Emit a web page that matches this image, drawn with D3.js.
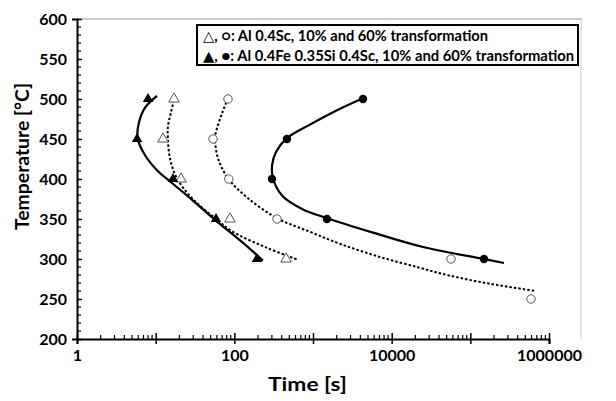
<!DOCTYPE html>
<html>
<head>
<meta charset="utf-8">
<script src="https://cdn.jsdelivr.net/npm/d3@7"></script>
<style>
  body { margin: 0; background: #fff; }
  text { font-family: Lato, "DejaVu Sans", sans-serif; font-weight: bold; fill: #000; }
</style>
</head>
<body>
<div id="container"></div>
<script>
var W = 616, H = 401;

// measured points (time in s, temperature in C)
var temps = [500, 450, 400, 350, 300];
var temps6 = [500, 450, 400, 350, 300, 250];
var tScOpenTri = [17.1, 12.4, 21, 88, 454];            // Al 0.4Sc, 10%
var tScOpenCirc = [83, 53.6, 85, 349, 56800, 590000];   // Al 0.4Sc, 60%
var tFeTri = [8.0, 5.8, 16.6, 58.5, 194];               // Al 0.4Fe 0.35Si 0.4Sc, 10%
var tFeCirc = [4320, 467, 301, 1506, 149000];           // Al 0.4Fe 0.35Si 0.4Sc, 60%

// fitted curves
var fitFe10 = [[10.4, 504], [7.3, 489], [6.14, 471], [5.9, 451], [7.3, 430], [10.4, 411],
  [16.1, 395], [29, 374], [56.8, 349], [137, 318], [231, 298]];
var fitSc10 = [[17.6, 504], [15.7, 484], [14.3, 465], [14.3, 451], [15.2, 426], [18.6, 401],
  [29, 376], [56.8, 351], [96, 334], [260, 314], [645, 299]];
var fitSc60 = [[83, 501], [69.7, 482], [58.5, 459], [56.8, 451], [62, 426], [83, 401],
  [145, 377], [349, 351], [916, 334], [2200, 319], [7100, 302.5], [22900, 289],
  [50500, 280], [178000, 269], [683000, 260]];
var fitFe60 = [[4320, 501], [2020, 486], [916, 468], [467, 451], [340, 434], [303, 418],
  [310, 401], [415, 378], [746, 362], [1506, 351], [5790, 333], [25000, 315],
  [149000, 300], [268000, 295]];

var yMajor = [200, 250, 300, 350, 400, 450, 500, 550, 600];
var xLabels = [1, 100, 10000, 1000000];
var legendRows = [
  '\u25B3, \u25CB: Al 0.4Sc, 10% and 60% transformation',
  '\u25B2, \u25CF: Al 0.4Fe 0.35Si 0.4Sc, 10% and 60% transformation'
];

var x = d3.scaleLog().domain([1, 1e6]).range([77, 549]);
var y = d3.scaleLinear().domain([200, 600]).range([339, 19]);

var svg = d3.select('#container').append('svg')
  .attr('width', W).attr('height', H);

// faint frame
svg.append('line').attr('x1', 77).attr('x2', 582).attr('y1', 19).attr('y2', 19)
  .attr('stroke', '#999').attr('stroke-width', 1);
svg.append('line').attr('x1', 581).attr('x2', 581).attr('y1', 19).attr('y2', 339)
  .attr('stroke', '#ccc').attr('stroke-width', 1);

// y axis
var yMinor = d3.range(200, 601, 10).filter(function (v) { return v % 50; });
var gy = svg.append('g').attr('transform', 'translate(77,0)')
  .call(d3.axisLeft(y).tickValues(yMajor).tickSize(5).tickPadding(5)
    .tickFormat(d3.format('d')));
gy.select('.domain').attr('stroke-width', 2);
gy.selectAll('.tick line').attr('x2', 5).attr('stroke-width', 1.5);
gy.selectAll('.tick text').style('font-size', '16px').attr('dy', '0.36em');
gy.selectAll('.minor').data(yMinor).enter().append('line')
  .attr('x1', 0).attr('x2', 4)
  .attr('y1', function (d) { return y(d); }).attr('y2', function (d) { return y(d); })
  .attr('stroke', '#000').attr('stroke-width', 1.2);

// x axis
var xMajor = d3.range(0, 7).map(function (e) { return Math.pow(10, e); });
var xMinor = [];
for (var e = 0; e < 6; e++) {
  for (var k = 2; k < 10; k++) xMinor.push(k * Math.pow(10, e));
}
var gx = svg.append('g').attr('transform', 'translate(0,339)')
  .call(d3.axisBottom(x).tickValues(xMajor).tickSize(5).tickPadding(6)
    .tickFormat(function (d) { return xLabels.indexOf(d) >= 0 ? d3.format('d')(d) : ''; }));
gx.select('.domain').attr('stroke-width', 2);
gx.selectAll('.tick line').attr('y1', -6).attr('stroke-width', 1.5);
gx.selectAll('.tick text').style('font-size', '16px');
gx.selectAll('.minor').data(xMinor).enter().append('line')
  .attr('x1', function (d) { return x(d); }).attr('x2', function (d) { return x(d); })
  .attr('y1', 0).attr('y2', -4)
  .attr('stroke', '#000').attr('stroke-width', 1.2);

// axis titles
svg.append('text').attr('x', 268).attr('y', 391)
  .attr('textLength', 79).attr('lengthAdjust', 'spacingAndGlyphs')
  .style('font-size', '19px').text('Time [s]');
svg.append('text').attr('transform', 'translate(29,230) rotate(-90)')
  .attr('textLength', 147).attr('lengthAdjust', 'spacingAndGlyphs')
  .style('font-size', '19px').text('Temperature [\u00B0C]');

// curves
var line = d3.line()
  .x(function (d) { return x(d[0]); })
  .y(function (d) { return y(d[1]); })
  .curve(d3.curveCatmullRom.alpha(0.5));

function drawCurve(pts, dashed) {
  svg.append('path').datum(pts)
    .attr('d', line)
    .attr('fill', 'none')
    .attr('stroke', '#000')
    .attr('stroke-width', dashed ? 2 : 2.2)
    .attr('stroke-dasharray', dashed ? '2.5,2' : null);
}
drawCurve(fitSc10, true);
drawCurve(fitSc60, true);
drawCurve(fitFe10, false);
drawCurve(fitFe60, false);

// markers
var tri = d3.symbol().type(d3.symbolTriangle).size(48);

function pairs(ts, tv) {
  return ts.map(function (t, i) { return [t, tv[i]]; });
}

svg.selectAll('.otri').data(pairs(tScOpenTri, temps)).enter().append('path')
  .attr('d', tri)
  .attr('transform', function (d) { return 'translate(' + x(d[0]) + ',' + y(d[1]) + ')'; })
  .attr('fill', '#fff').attr('stroke', '#555').attr('stroke-width', 1);

svg.selectAll('.ocirc').data(pairs(tScOpenCirc, temps6)).enter().append('circle')
  .attr('cx', function (d) { return x(d[0]); })
  .attr('cy', function (d) { return y(d[1]); })
  .attr('r', 4.2)
  .attr('fill', '#fff').attr('stroke', '#555').attr('stroke-width', 1);

svg.selectAll('.ftri').data(pairs(tFeTri, temps)).enter().append('path')
  .attr('d', tri)
  .attr('transform', function (d) { return 'translate(' + x(d[0]) + ',' + y(d[1]) + ')'; })
  .attr('fill', '#000');

svg.selectAll('.fcirc').data(pairs(tFeCirc, temps)).enter().append('circle')
  .attr('cx', function (d) { return x(d[0]); })
  .attr('cy', function (d) { return y(d[1]); })
  .attr('r', 4.2)
  .attr('fill', '#000');

// legend
var lg = svg.append('g');
lg.append('rect').attr('x', 197).attr('y', 25).attr('width', 381).attr('height', 40)
  .attr('fill', '#fff').attr('stroke', '#000').attr('stroke-width', 2);
lg.selectAll('text').data(legendRows).enter().append('text')
  .attr('x', 203)
  .attr('y', function (d, i) { return 41 + i * 20; })
  .attr('textLength', function (d, i) { return i ? 371 : 285; })
  .attr('lengthAdjust', 'spacingAndGlyphs')
  .style('font-size', '14.5px')
  .text(function (d) { return d; });
</script>
</body>
</html>
